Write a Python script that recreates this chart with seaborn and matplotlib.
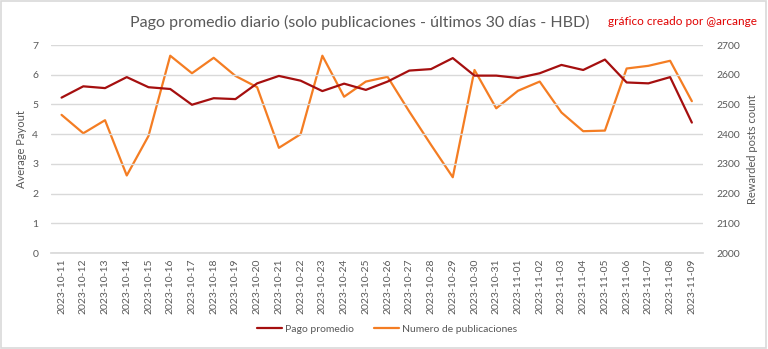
import matplotlib
matplotlib.use("Agg")
import matplotlib.pyplot as plt
import seaborn as sns
import pandas as pd
import numpy as np

dates = ["2023-10-11", "2023-10-12", "2023-10-13", "2023-10-14", "2023-10-15",
         "2023-10-16", "2023-10-17", "2023-10-18", "2023-10-19", "2023-10-20",
         "2023-10-21", "2023-10-22", "2023-10-23", "2023-10-24", "2023-10-25",
         "2023-10-26", "2023-10-27", "2023-10-28", "2023-10-29", "2023-10-30",
         "2023-10-31", "2023-11-01", "2023-11-02", "2023-11-03", "2023-11-04",
         "2023-11-05", "2023-11-06", "2023-11-07", "2023-11-08", "2023-11-09"]
pago_promedio = [5.23, 5.61, 5.55, 5.92, 5.58, 5.52, 4.99, 5.21, 5.18, 5.71,
                 5.96, 5.80, 5.45, 5.70, 5.49, 5.77, 6.14, 6.19, 6.56, 5.97,
                 5.97, 5.89, 6.05, 6.33, 6.16, 6.51, 5.74, 5.71, 5.92, 4.39]
numero_publicaciones = [2465, 2403, 2447, 2261, 2394, 2664, 2605, 2657, 2596, 2558,
                        2354, 2400, 2664, 2526, 2577, 2593, 2476, 2364, 2255, 2616,
                        2487, 2546, 2577, 2473, 2410, 2412, 2621, 2630, 2647, 2511]

title = "Pago promedio diario (solo publicaciones - últimos 30 días - HBD)"
credit = "gráfico creado por @arcange"
left_label = "Average Payout"
right_label = "Rewarded posts count"
s1_name = "Pago promedio"
s2_name = "Numero de publicaciones"

sns.set_theme(style="white")
plt.rcParams['font.family'] = ['Lato', 'DejaVu Sans']

c1 = "#A50F0F"
c2 = "#F47D23"
txt = "#595959"
grid = "#D9D9D9"

df = pd.DataFrame({"fecha": dates, "pago": pago_promedio, "num": numero_publicaciones})
df["x"] = np.arange(len(dates))

fig = plt.figure(figsize=(7.68, 3.49), dpi=100)
ax = fig.add_axes([0.066, 0.275, 0.849, 0.596])
ax2 = ax.twinx()

sns.lineplot(data=df, x="x", y="pago", ax=ax, color=c1, linewidth=1.6, label=s1_name, legend=False)
sns.lineplot(data=df, x="x", y="num", ax=ax2, color=c2, linewidth=1.6, label=s2_name, legend=False)

ax.set_zorder(ax2.get_zorder() + 1)
ax.patch.set_visible(False)

ax.set_xlim(-0.5, len(dates) - 0.5)
ax.set_ylim(0, 7)
ax2.set_ylim(2000, 2700)
ax.set_yticks(range(0, 8))
ax2.set_yticks(range(2000, 2701, 100))
ax.set_xticks(df["x"])
ax.set_xticklabels(dates, rotation=90, fontsize=7.5, color=txt)
ax.tick_params(axis='y', labelsize=7.5, colors=txt, length=0, pad=9)
ax2.tick_params(axis='y', labelsize=7.5, colors=txt, length=0, pad=10)
ax.tick_params(axis='x', length=0, pad=4)
ax.yaxis.grid(True, color=grid, linewidth=1)
ax.set_axisbelow(True)
for a in (ax, ax2):
    for s in a.spines.values():
        s.set_visible(False)
ax.spines['bottom'].set_visible(True)
ax.spines['bottom'].set_color(grid)

ax.set_xlabel("")
ax.set_ylabel(left_label, fontsize=8, color=txt, labelpad=4)
ax2.set_ylabel(right_label, fontsize=8, color=txt, labelpad=5)

fig.text(0.469, 0.937, title, ha="center", va="center", fontsize=11.5, color=txt)
fig.text(0.986, 0.937, credit, ha="right", va="center", fontsize=8.5, color="#E00000")

h1, l1 = ax.get_legend_handles_labels()
h2, l2 = ax2.get_legend_handles_labels()
fig.legend(h1 + h2, l1 + l2, loc="center", bbox_to_anchor=(0.504, 0.057), ncol=2,
           frameon=False, fontsize=7.5, labelcolor=txt, handlelength=2.4,
           handletextpad=0.3, columnspacing=2.0)

fig.patches.append(plt.Rectangle((0.001, 0.003), 0.997, 0.994, transform=fig.transFigure,
                                 fill=False, edgecolor="#D9D9D9", linewidth=1.2))

fig.savefig("out.png", dpi=100)
